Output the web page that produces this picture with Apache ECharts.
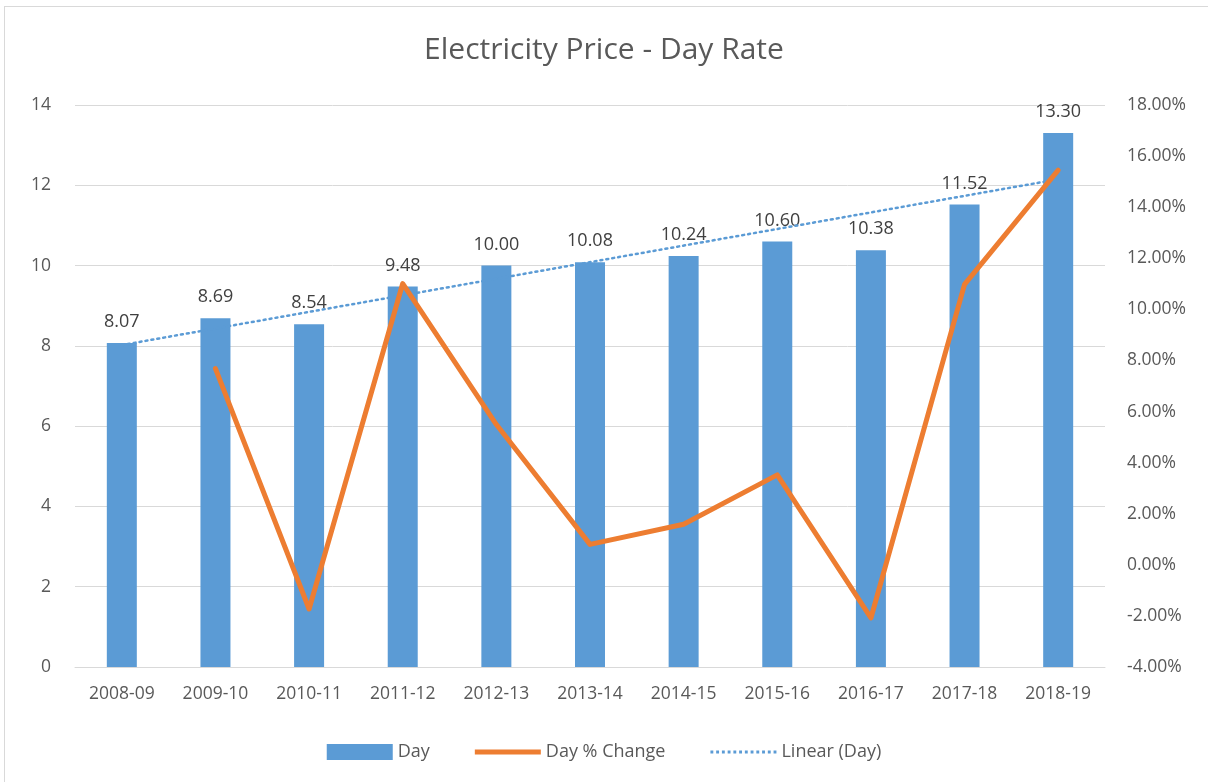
<!DOCTYPE html>
<html>
<head>
<meta charset="utf-8">
<title>Electricity Price - Day Rate</title>
<script src="https://cdn.jsdelivr.net/npm/echarts@6/dist/echarts.min.js"></script>
<style>
  html, body { margin: 0; padding: 0; background: #fff; }
  #frame { position: absolute; left: 4px; top: 6px; width: 1210px; height: 780px; border: 1px solid #d9d9d9; box-sizing: border-box; }
  #chart { position: absolute; left: 0; top: 0; width: 1208px; height: 782px; }
</style>
</head>
<body>
<div id="frame"></div>
<div id="chart"></div>
<script>
// 年度
var years = ['2008-09', '2009-10', '2010-11', '2011-12', '2012-13', '2013-14',
             '2014-15', '2015-16', '2016-17', '2017-18', '2018-19'];
// 日间电价
var dayRate = [8.07, 8.69, 8.54, 9.48, 10.00, 10.08, 10.24, 10.60, 10.38, 11.52, 13.30];
// 同比变化 (%)
var dayChange = [null, 7.68, -1.73, 11.01, 5.49, 0.80, 1.59, 3.52, -2.08, 10.98, 15.45];
// 趋势线两端
var trendStart = 8.02;
var trendEnd = 12.15;

var font = '"Open Sans", "Liberation Sans", sans-serif';
var textColor = '#595959';

// 图例里的点线图标
var dots = '';
for (var i = 0; i < 12; i++) {
    dots += 'M' + (i * 5) + ',0h2.5v2.5h-2.5z';
}

var chart = echarts.init(document.getElementById('chart'));

var option = {
    backgroundColor: 'transparent',
    title: {
        text: 'Electricity Price - Day Rate',
        left: 'center',
        top: 30,
        textStyle: { fontFamily: font, fontSize: 30, fontWeight: 'normal', color: textColor }
    },
    legend: {
        bottom: 16,
        itemGap: 45,
        itemWidth: 66,
        itemHeight: 16,
        textStyle: { fontFamily: font, fontSize: 18, color: textColor },
        data: [
            { name: 'Day', icon: 'rect' },
            { name: 'Day % Change', icon: 'path://M0,0h66v5h-66z' },
            { name: 'Linear (Day)', icon: 'path://' + dots }
        ]
    },
    grid: { left: 75, right: 103, top: 105, bottom: 115 },
    xAxis: {
        type: 'category',
        data: years,
        axisLine: { lineStyle: { color: '#d9d9d9', width: 1 } },
        axisTick: { show: false },
        axisLabel: { fontFamily: font, fontSize: 17.5, color: textColor, margin: 18 }
    },
    yAxis: [
        {
            type: 'value',
            min: 0, max: 14, interval: 2,
            axisLine: { show: false },
            axisTick: { show: false },
            splitLine: { lineStyle: { color: '#d9d9d9', width: 1 } },
            axisLabel: { fontFamily: font, fontSize: 17.5, color: textColor, margin: 24 }
        },
        {
            type: 'value',
            min: -4, max: 18, interval: 2,
            axisLine: { show: false },
            axisTick: { show: false },
            splitLine: { show: false },
            axisLabel: {
                fontFamily: font, fontSize: 17.5, color: textColor, margin: 22,
                formatter: function (v) { return v.toFixed(2) + '%'; }
            }
        }
    ],
    series: [
        {
            name: 'Day',
            type: 'bar',
            data: dayRate,
            barWidth: 30,
            itemStyle: { color: '#5b9bd5' },
            label: {
                show: true,
                position: 'top',
                distance: 12,
                fontFamily: font, fontSize: 18, color: '#404040',
                formatter: function (p) { return p.value.toFixed(2); }
            },
            z: 2
        },
        {
            name: 'Day % Change',
            type: 'line',
            yAxisIndex: 1,
            data: dayChange,
            symbol: 'none',
            lineStyle: { color: '#ed7d31', width: 5, cap: 'round', join: 'round' },
            itemStyle: { color: '#ed7d31' },
            z: 4
        },
        {
            name: 'Linear (Day)',
            type: 'line',
            data: [[0, trendStart], [years.length - 1, trendEnd]],
            symbol: 'none',
            lineStyle: { color: '#5b9bd5', width: 2.5, type: [2, 4], cap: 'round' },
            itemStyle: { color: '#5b9bd5' },
            z: 3
        }
    ]
};

chart.setOption(option);
</script>
</body>
</html>
